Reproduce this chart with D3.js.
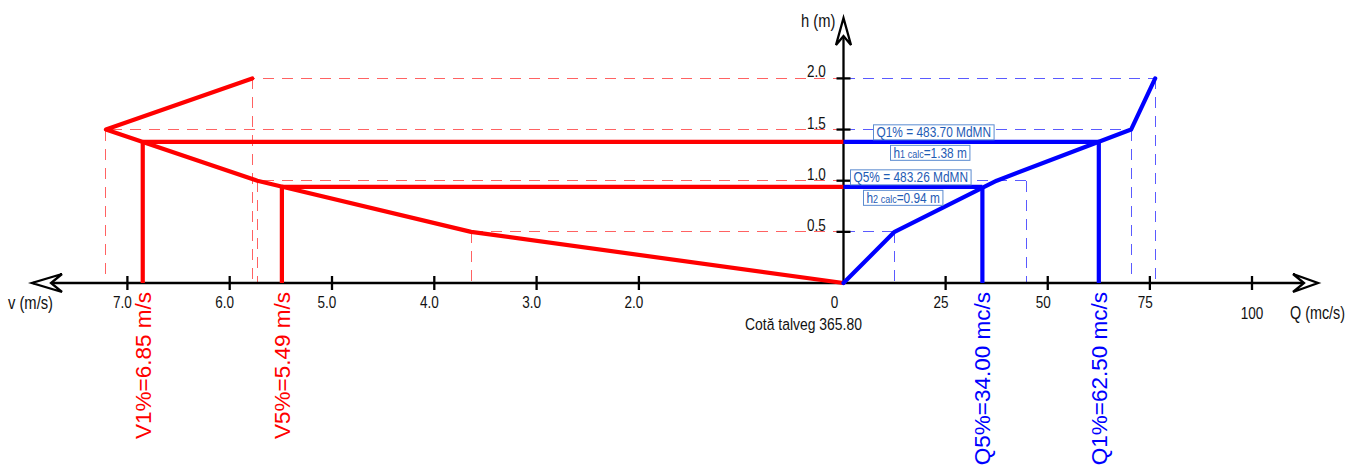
<!DOCTYPE html>
<html>
<head>
<meta charset="utf-8">
<script src="https://cdn.jsdelivr.net/npm/d3@7"></script>
<style>
html,body{margin:0;padding:0;background:#fff;}
svg{display:block;}
</style>
</head>
<body>
<script>
// ---------- data ----------
const hLevels   = [0, 0.5, 1.0, 1.5, 2.0];          // h (m)
const velocity  = [0, 3.64, 5.73, 7.21, 5.78];      // v (m/s) at each h
const discharge = [0, 12.5, 37.5, 70.4, 76.3];      // Q (mc/s) at each h
const dischargeGuide = [0, 12.6, 44.7, 70.4, 76.3]; // dashed guide positions as drawn
const vTicks = [7, 6, 5, 4, 3, 2];
const vTickLabels = ["7.0", "6.0", "5.0", "4.0", "3.0", "2.0"];
const qTicks = [25, 50, 75, 100];
const qTickLabels = ["25", "50", "75", "100"];
const hTicks = [0.5, 1.0, 1.5, 2.0];
const hTickLabels = ["0.5", "1.0", "1.5", "2.0"];
const designProb  = ["1%", "5%"];
const designQ     = [62.50, 34.00];
const designH     = [1.38, 0.94];
const designV     = [6.85, 5.49];
const designLevel = ["483.70", "483.26"];
const thalweg = "Cotă talveg 365.80";

// ---------- setup ----------
const W = 1346, H = 470;
const SANS = "'Liberation Sans',Arial,sans-serif";
const NX = 0.82; // horizontal condensing for the narrow CAD font
const svg = d3.select("body").append("svg").attr("width", W).attr("height", H);

const x0 = 843.5, y0 = 283;
const xV = d3.scaleLinear().domain([0, 8]).range([x0, x0 - 8 * 102.3]);
const xQ = d3.scaleLinear().domain([0, 100]).range([x0, 1252]);
const yH = d3.scaleLinear().domain([0, 2]).range([y0, 78.4]);

const RED = "#ff0000", BLUE = "#0000ff";
const RED_D = "#ff6262", BLUE_D = "#5a5aff";

function narrowText(parent, x, y, str, size, anchor, fill) {
  return parent.append("text")
    .attr("transform", `translate(${x},${y}) scale(${NX},1)`)
    .attr("font-family", SANS).attr("font-size", size)
    .attr("text-anchor", anchor || "start").attr("fill", fill || "#111")
    .text(str);
}

// ---------- dashed guides ----------
const guides = svg.append("g").attr("fill", "none").attr("stroke-width", 1)
  .attr("stroke-dasharray", "11,8").attr("shape-rendering", "crispEdges");
hLevels.forEach((h, i) => {
  if (i === 0) return;
  guides.append("line").attr("stroke", RED_D)
    .attr("x1", xV(0)).attr("x2", xV(velocity[i])).attr("y1", yH(h)).attr("y2", yH(h));
  guides.append("line").attr("stroke", RED_D)
    .attr("x1", xV(velocity[i])).attr("x2", xV(velocity[i])).attr("y1", yH(h)).attr("y2", yH(0));
  guides.append("line").attr("stroke", BLUE_D)
    .attr("x1", xQ(0)).attr("x2", xQ(dischargeGuide[i])).attr("y1", yH(h)).attr("y2", yH(h));
  guides.append("line").attr("stroke", BLUE_D)
    .attr("x1", xQ(dischargeGuide[i])).attr("x2", xQ(dischargeGuide[i])).attr("y1", yH(h)).attr("y2", yH(0));
});

// ---------- axes ----------
const ax = svg.append("g").attr("stroke", "#000").attr("stroke-width", 2.3);
ax.append("line").attr("x1", 33).attr("x2", 1316).attr("y1", y0).attr("y2", y0);
ax.append("line").attr("x1", x0).attr("x2", x0).attr("y1", y0).attr("y2", 20);
vTicks.forEach(v => ax.append("line").attr("x1", xV(v)).attr("x2", xV(v)).attr("y1", y0 - 7).attr("y2", y0 + 7));
qTicks.forEach(q => ax.append("line").attr("x1", xQ(q)).attr("x2", xQ(q)).attr("y1", y0 - 7).attr("y2", y0 + 7));
hTicks.forEach(h => ax.append("line").attr("x1", x0 - 7).attr("x2", x0 + 7).attr("y1", yH(h)).attr("y2", yH(h)));
const arrows = svg.append("g").attr("stroke", "#000").attr("stroke-width", 2.3).attr("fill", "#fff").attr("stroke-linejoin", "miter");
arrows.append("path").attr("d", `M62,${y0-9} L32,${y0} L62,${y0+9} L51,${y0} Z`);
arrows.append("path").attr("d", `M1293,${y0-9} L1318,${y0} L1293,${y0+9} L1304,${y0} Z`);
arrows.append("path").attr("d", `M${x0-7.5},45 L${x0},18 L${x0+7.5},45 L${x0},36 Z`);

// tick labels
const tl = svg.append("g");
const TS = 16.5;
vTicks.forEach((v, i) => narrowText(tl, xV(v) - 5, 307.5, vTickLabels[i], TS, "middle"));
narrowText(tl, x0 - 9, 307.5, "0", TS, "middle");
qTicks.forEach((q, i) => {
  const last = i === qTicks.length - 1;
  narrowText(tl, xQ(q) - (last ? 0 : 4.5), last ? 319 : 307.5, qTickLabels[i], TS, "middle");
});
hTicks.forEach((h, i) => narrowText(tl, x0 - 27, yH(h) - 1, hTickLabels[i], TS, "middle"));

// axis titles
const at = svg.append("g");
narrowText(at, 8, 309, "v (m/s)", 18);
narrowText(at, 1290, 319, "Q (mc/s)", 17.5);
narrowText(at, 801, 27, "h (m)", 18);
narrowText(at, x0 - 40, 329.5, thalweg, 17, "middle");

// ---------- curves ----------
const pts = hLevels.map((h, i) => ({h, v: velocity[i], q: discharge[i]}));
const lineV = d3.line().x(d => xV(d.v)).y(d => yH(d.h));
const lineQ = d3.line().x(d => xQ(d.q)).y(d => yH(d.h));
svg.append("path").datum(pts).attr("d", lineV).attr("fill", "none").attr("stroke", RED)
  .attr("stroke-width", 4.2).attr("stroke-linejoin", "round").attr("stroke-linecap", "round");
svg.append("path").datum(pts).attr("d", lineQ).attr("fill", "none").attr("stroke", BLUE)
  .attr("stroke-width", 4.2).attr("stroke-linejoin", "round").attr("stroke-linecap", "round");

// ---------- design lines ----------
const dl = svg.append("g").attr("stroke-width", 4.2).attr("fill", "none");
designProb.forEach((p, i) => {
  const y = yH(designH[i]);
  dl.append("line").attr("stroke", RED).attr("x1", xV(designV[i])).attr("x2", x0).attr("y1", y).attr("y2", y);
  dl.append("line").attr("stroke", RED).attr("x1", xV(designV[i])).attr("x2", xV(designV[i])).attr("y1", y).attr("y2", y0);
  dl.append("line").attr("stroke", BLUE).attr("x1", x0).attr("x2", xQ(designQ[i])).attr("y1", y).attr("y2", y);
  dl.append("line").attr("stroke", BLUE).attr("x1", xQ(designQ[i])).attr("x2", xQ(designQ[i])).attr("y1", y).attr("y2", y0);
});

// rotated value labels
const rl = svg.append("g").attr("font-family", SANS).attr("font-size", 22.5).attr("text-anchor", "end");
designProb.forEach((p, i) => {
  const xv = xV(designV[i]);
  rl.append("text").attr("fill", RED).attr("transform", `translate(${xv + 8},292) rotate(-90)`)
    .text(`V${p}=${designV[i].toFixed(2)} m/s`);
  const xq = xQ(designQ[i]);
  rl.append("text").attr("fill", BLUE).attr("transform", `translate(${xq + 8},292) rotate(-90)`)
    .text(`Q${p}=${designQ[i].toFixed(2)} mc/s`);
});

// ---------- boxed annotations ----------
const TXT = "#1f5cb5", BOX = "#5b8bd0";
const boxOffQ = [30, 7];   // left offset from h axis of Q box
const boxOffH = [47, 20];  // left offset from h axis of h box
function boxedText(xLeft, yTop, build) {
  const g = svg.append("g");
  const r = g.append("rect").attr("fill", "#fff").attr("stroke", BOX).attr("stroke-width", 1);
  const t = g.append("text").attr("font-family", SANS).attr("font-size", 14.5).attr("fill", TXT)
    .attr("transform", `translate(${xLeft + 3},${yTop + 12.6}) scale(${NX},1)`);
  build(t);
  const bb = t.node().getBBox();
  r.attr("x", xLeft).attr("y", yTop).attr("width", bb.width * NX + 6).attr("height", 15);
}
designProb.forEach((p, i) => {
  const y = yH(designH[i]);
  boxedText(x0 + boxOffQ[i], y - 17, t => t.text(`Q${p} = ${designLevel[i]} MdMN`));
  boxedText(x0 + boxOffH[i], y + 3.5, t => {
    t.append("tspan").text("h");
    t.append("tspan").attr("font-size", 11).text(`${i + 1} calc`);
    t.append("tspan").text(`=${designH[i].toFixed(2)} m`);
  });
});
</script>
</body>
</html>
